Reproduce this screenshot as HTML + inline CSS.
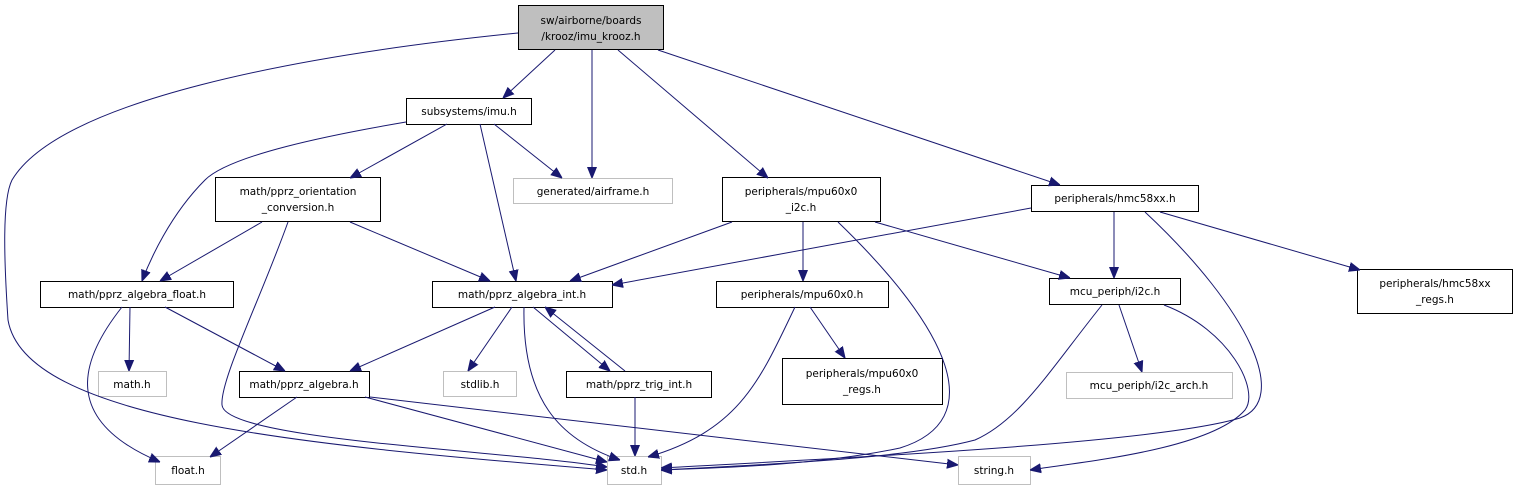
<!DOCTYPE html>
<html><head><meta charset="utf-8"><style>
html,body{margin:0;padding:0;background:#fff;}
svg{display:block;}
text{font-family:"DejaVu Sans","Liberation Sans",sans-serif;font-size:10.5px;fill:#000;text-anchor:middle;}
.n{fill:#fff;stroke:#000;stroke-width:1;}
.g{fill:#fff;stroke:#bfbfbf;stroke-width:1;}
.e{fill:none;stroke:#191970;stroke-width:1;marker-end:url(#a);}
</style></head><body>
<svg width="1517" height="491" viewBox="0 0 1517 491" xmlns="http://www.w3.org/2000/svg">
<defs><marker id="a" viewBox="0 0 10 10" refX="10" refY="5" markerWidth="11" markerHeight="11" markerUnits="userSpaceOnUse" orient="auto"><path d="M0,1 L10,5 L0,9 z" fill="#191970" stroke="#191970"/></marker></defs>
<!-- nodes -->
<rect x="518.5" y="5.5" width="145" height="44" fill="#bfbfbf" stroke="#000"/>
<text x="591" y="24">sw/airborne/boards</text><text x="591" y="40">/krooz/imu_krooz.h</text>
<rect class="n" x="406.5" y="98.5" width="125" height="26"/><text x="469" y="115">subsystems/imu.h</text>
<rect class="n" x="215.5" y="177.5" width="165" height="44"/><text x="298" y="195">math/pprz_orientation</text><text x="298" y="211">_conversion.h</text>
<rect class="g" x="513.5" y="178.5" width="159" height="25"/><text x="593" y="195">generated/airframe.h</text>
<rect class="n" x="722.5" y="177.5" width="158" height="44"/><text x="801" y="195">peripherals/mpu60x0</text><text x="801" y="211">_i2c.h</text>
<rect class="n" x="1031.5" y="185.5" width="167" height="26"/><text x="1115" y="202">peripherals/hmc58xx.h</text>
<rect class="n" x="40.5" y="281.5" width="193" height="26"/><text x="137" y="298">math/pprz_algebra_float.h</text>
<rect class="n" x="432.5" y="281.5" width="180" height="26"/><text x="522" y="298">math/pprz_algebra_int.h</text>
<rect class="n" x="716.5" y="281.5" width="172" height="26"/><text x="802" y="298">peripherals/mpu60x0.h</text>
<rect class="n" x="1049.5" y="278.5" width="131" height="26"/><text x="1115" y="295">mcu_periph/i2c.h</text>
<rect class="n" x="1357.5" y="269.5" width="155" height="44"/><text x="1435" y="287">peripherals/hmc58xx</text><text x="1435" y="303">_regs.h</text>
<rect class="g" x="98.5" y="371.5" width="68" height="25"/><text x="132" y="388">math.h</text>
<rect class="n" x="239.5" y="371.5" width="130" height="26"/><text x="304" y="388">math/pprz_algebra.h</text>
<rect class="g" x="443.5" y="371.5" width="73" height="25"/><text x="480" y="388">stdlib.h</text>
<rect class="n" x="566.5" y="371.5" width="145" height="26"/><text x="639" y="388">math/pprz_trig_int.h</text>
<rect class="n" x="782.5" y="358.5" width="160" height="46"/><text x="862" y="377">peripherals/mpu60x0</text><text x="862" y="393">_regs.h</text>
<rect class="g" x="1066.5" y="372.5" width="166" height="26"/><text x="1149" y="389">mcu_periph/i2c_arch.h</text>
<rect class="g" x="155.5" y="456.5" width="65" height="28"/><text x="188" y="474">float.h</text>
<rect class="g" x="607.5" y="456.5" width="54" height="28"/><text x="634" y="474">std.h</text>
<rect class="g" x="958.5" y="456.5" width="72" height="28"/><text x="994" y="474">string.h</text>
<!-- edges -->
<path class="e" d="M555,50 L503,98"/>
<path class="e" d="M592,50 L592,178"/>
<path class="e" d="M618,50 L768,178"/>
<path class="e" d="M658,50 L1060,185"/>
<path class="e" d="M518,33 C300,55 60,100 12,180 C2,200 4,260 8,320 C25,420 300,445 607,470"/>
<path class="e" d="M406,122 C330,135 230,155 205,180 C170,215 150,260 142,281"/>
<path class="e" d="M447,124 L350,178"/>
<path class="e" d="M480,124 L516,281"/>
<path class="e" d="M494,124 L562,178"/>
<path class="e" d="M262,222 L160,281"/>
<path class="e" d="M350,222 L490,281"/>
<path class="e" d="M288,222 C260,300 220,380 222,405 C225,440 500,450 607,467"/>
<path class="e" d="M732,222 L570,281"/>
<path class="e" d="M1031,208 L612,285"/>
<path class="e" d="M803,222 L803,281"/>
<path class="e" d="M838,222 C950,330 990,420 900,448 C820,465 720,468 661,470"/>
<path class="e" d="M875,222 L1070,278"/>
<path class="e" d="M1114,212 L1114,278"/>
<path class="e" d="M1145,212 C1250,310 1290,400 1240,418 C1150,445 800,460 661,468"/>
<path class="e" d="M1160,212 L1360,270"/>
<path class="e" d="M130,307 L129,371"/>
<path class="e" d="M122,307 C80,360 60,420 160,462"/>
<path class="e" d="M165,307 L285,371"/>
<path class="e" d="M495,307 L350,371"/>
<path class="e" d="M512,307 L468,371"/>
<path class="e" d="M524,307 C522,400 560,440 620,460"/>
<path class="e" d="M533,307 L610,371"/>
<path class="e" d="M625,371 L545,307"/>
<path class="e" d="M635,397 L635,456"/>
<path class="e" d="M297,397 L210,457"/>
<path class="e" d="M365,397 L607,462"/>
<path class="e" d="M370,397 L958,465"/>
<path class="e" d="M795,307 C760,380 740,430 648,457"/>
<path class="e" d="M810,307 L845,358"/>
<path class="e" d="M1102,305 C1050,370 1020,420 975,440 C900,460 750,465 661,470"/>
<path class="e" d="M1119,305 L1142,372"/>
<path class="e" d="M1164,305 C1230,330 1260,390 1245,410 C1210,450 1080,462 1030,470"/>
</svg>
</body></html>
